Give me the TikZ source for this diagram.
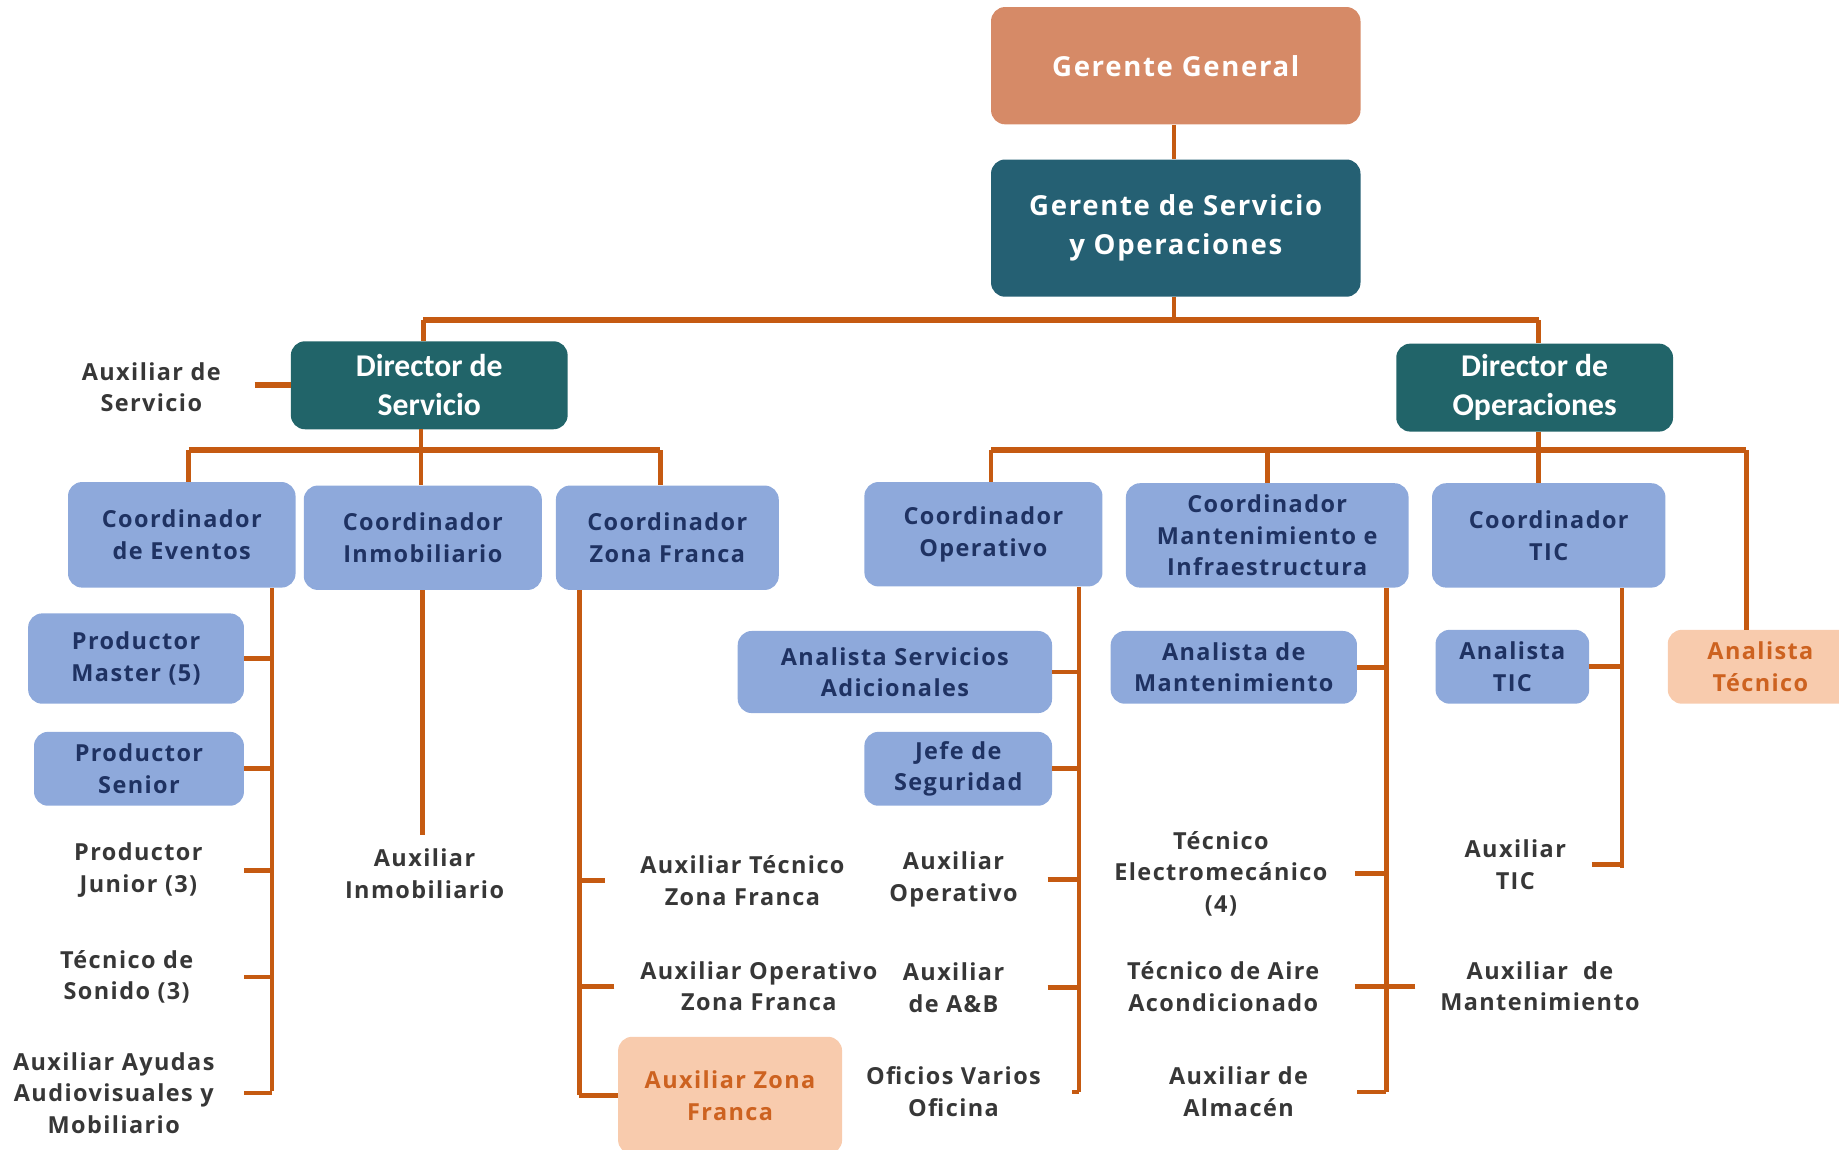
\documentclass[tikz,border=0pt]{standalone}
\usepackage{fontspec}
\setmainfont{Open Sans}
\newfontfamily\osans{Open Sans}[LetterSpace=6]
\newfontfamily\calib{Carlito}
\usetikzlibrary{positioning}
\definecolor{ggcol}{RGB}{214,138,103}
\definecolor{gsocol}{RGB}{37,96,115}
\definecolor{dircol}{RGB}{33,100,105}
\definecolor{boxblue}{RGB}{142,169,219}
\definecolor{navy}{RGB}{31,50,98}
\definecolor{peach}{RGB}{248,203,173}
\definecolor{orangetext}{RGB}{205,98,32}
\definecolor{graytext}{RGB}{55,55,55}
\definecolor{linecol}{RGB}{197,90,17}
\tikzset{basic/.style={rectangle,rounded corners=12pt,align=center,inner sep=0pt}}
\tikzset{top/.style={basic,fill=ggcol,text=white,font=\osans\bfseries\fontsize{23.5}{33}\selectfont}}
\tikzset{head/.style={basic,fill=gsocol,text=white,font=\osans\bfseries\fontsize{23.5}{33}\selectfont}}
\tikzset{director/.style={basic,fill=dircol,text=white,font=\calib\bfseries\fontsize{27}{33}\selectfont}}
\tikzset{coord/.style={basic,fill=boxblue,text=navy,font=\osans\bfseries\fontsize{20}{27}\selectfont}}
\tikzset{extra/.style={basic,fill=peach,text=orangetext,font=\osans\bfseries\fontsize{20}{27}\selectfont}}
\tikzset{leaf/.style={align=center,inner sep=0pt,text=graytext,font=\osans\bfseries\fontsize{20}{27}\selectfont}}
\tikzset{link/.style={draw=linecol,line width=4pt}}
\tikzset{bus/.style={link,line width=5pt}}

\begin{document}
\begin{tikzpicture}[x=1pt,y=-1pt]
    \useasboundingbox (0,0) rectangle (1568,979.7);

    % management
    \node[top,minimum width=315pt,minimum height=100pt] (gg) at (1002.5,56) {Gerente General};
    \node[head,minimum width=315pt,minimum height=117pt] (gso) at (1002.5,194.5) {Gerente de Servicio\\y Operaciones};
    \node[director,minimum width=236pt,minimum height=75pt] (ds) at (366,328.5) {Director de\\Servicio};
    \node[director,minimum width=236pt,minimum height=75pt] (dop) at (1308.5,330.5) {Director de\\Operaciones};
    \node[leaf,minimum width=176pt] (as) at (129,330) {Auxiliar de\\Servicio};

    % coordinators
    \node[coord,minimum width=194pt,minimum height=90pt] (ce) at (155,456) {Coordinador\\de Eventos};
    \node[coord,minimum width=203pt,minimum height=89pt] (ci) at (360.5,458.5) {Coordinador\\Inmobiliario};
    \node[coord,minimum width=190pt,minimum height=89pt] (cz) at (569,458.5) {Coordinador\\Zona Franca};
    \node[coord,minimum width=203pt,minimum height=89pt] (co) at (838.5,455.5) {Coordinador\\Operativo};
    \node[coord,minimum width=241pt,minimum height=89pt] (cm) at (1080.5,456.5) {Coordinador\\Mantenimiento e\\Infraestructura};
    \node[coord,minimum width=199pt,minimum height=89pt] (ct) at (1320.5,456.5) {Coordinador\\TIC};
    \node[extra,minimum width=158pt,minimum height=63pt] (at) at (1501,568.5) {Analista\\T\'ecnico};

    % eventos
    \node[coord,minimum width=184pt,minimum height=77pt] (pm) at (116,561.5) {Productor\\Master (5)};
    \node[coord,minimum width=179pt,minimum height=63pt] (ps) at (118.5,655.5) {Productor\\Senior};
    \node[leaf,minimum width=180pt] (pj) at (118,742) {Productor\\Junior (3)};
    \node[leaf,minimum width=200pt] (tso) at (108,833) {T\'ecnico de\\Sonido (3)};
    \node[leaf,minimum width=222pt] (aa) at (97,932) {Auxiliar Ayudas\\Audiovisuales y\\Mobiliario};

    % inmobiliario
    \node[leaf,minimum height=66pt] (ai) at (362,745) {Auxiliar\\Inmobiliario};

    % zona franca
    \node[leaf,minimum width=234pt] (atz) at (633,751) {Auxiliar T\'ecnico\\Zona Franca};
    \node[leaf,minimum width=246pt] (aoz) at (647,841) {Auxiliar Operativo\\Zona Franca};
    \node[extra,minimum width=191pt,minimum height=100pt] (azf) at (622.5,934) {Auxiliar Zona\\Franca};

    % operativo
    \node[coord,minimum width=268pt,minimum height=70pt] (asa) at (763,573) {Analista Servicios\\Adicionales};
    \node[coord,minimum width=160pt,minimum height=63pt] (js) at (817,655.5) {Jefe de\\Seguridad};
    \node[leaf,minimum width=160pt] (ao) at (813,750) {Auxiliar\\Operativo};
    \node[leaf,minimum width=160pt] (aab) at (813,842) {Auxiliar\\de A\&B};
    \node[leaf,minimum width=202pt] (ovo) at (813,931) {Oficios Varios\\Oficina};

    % mantenimiento
    \node[coord,minimum width=210pt,minimum height=62pt] (am) at (1052,569) {Analista de\\Mantenimiento};
    \node[leaf,minimum width=228pt] (te) at (1041,745) {T\'ecnico\\Electromec\'anico\\(4)};
    \node[leaf,minimum width=224pt] (taa) at (1043,841) {T\'ecnico de Aire\\Acondicionado};
    \node[leaf,minimum width=202pt] (aal) at (1056,931) {Auxiliar de\\Almac\'en};
    \node[leaf,minimum width=212pt] (amt) at (1313,841) {Auxiliar~~de\\Mantenimiento};

    % tic
    \node[coord,minimum width=131pt,minimum height=63pt] (atic) at (1289.5,568.5) {Analista\\TIC};
    \node[leaf,minimum width=130pt] (atc) at (1292,737) {Auxiliar\\TIC};

    \coordinate (bt) at (1001,273);
    \coordinate (bs) at (359,384);
    \coordinate (bo) at (1312,384);
    \coordinate (ev) at (232,930);
    \coordinate (zf) at (494,934);
    \coordinate (op) at (920,931);
    \coordinate (mt) at (1182,931);
    \coordinate (tc) at (1383,740);

    % top levels
    \path[link] (gg.south -| bt) -- (gso.north -| bt);
    \path[link] (gso.south -| bt) -- (bt);
    \path[bus] ([xshift=-5]ds.north |- bt) -- ([xshift=3.5]dop.north |- bt);
    \path[link] ([xshift=-5]ds.north |- bt) -- ([xshift=-5]ds.north);
    \path[link] ([xshift=3.5]dop.north |- bt) -- ([xshift=3.5]dop.north);
    \path[bus] (as.east |- ds.west) -- (ds.west);

    % service bus
    \path[link] (ds.south -| bs) -- (bs);
    \path[bus] ([xshift=6]ce.north |- bs) -- ([xshift=-6]cz.north |- bs);
    \path[link] ([xshift=6]ce.north |- bs) -- ([xshift=6]ce.north);
    \path[link] (bs) -- (ci.north -| bs);
    \path[link] ([xshift=-6]cz.north |- bs) -- ([xshift=-6]cz.north);

    % operations bus
    \path[link] (dop.south -| bo) -- (bo);
    \path[bus] ([xshift=6.5]co.north |- bo) -- ([xshift=-12]at.north |- bo);
    \path[link] ([xshift=6.5]co.north |- bo) -- ([xshift=6.5]co.north);
    \path[link] (cm.north |- bo) -- (cm.north);
    \path[link] (bo) -- (ct.north -| bo);
    \path[link] ([xshift=-12]at.north |- bo) -- ([xshift=-12]at.north);

    % eventos
    \path[link] (ce.south -| ev) -- (ev);
    \path[link] (pm.east) -- (pm.east -| ev);
    \path[link] (ps.east) -- (ps.east -| ev);
    \path[link] (pj.east) -- (pj.east -| ev);
    \path[link] (tso.east) -- (tso.east -| ev);
    \path[link] (aa.east) -- (aa.east -| ev);

    % inmobiliario
    \path[link] (ci.south) -- (ci.south |- ai.north);

    % zona franca
    \path[link] (cz.south -| zf) -- (zf);
    \path[link] (atz.west) -- (atz.west -| zf);
    \path[link] (aoz.west) -- (aoz.west -| zf);
    \path[link] (azf.west) -- (azf.west -| zf);

    % operativo
    \path[link] (co.south -| op) -- (op);
    \path[link] (asa.east) -- (asa.east -| op);
    \path[link] (js.east) -- (js.east -| op);
    \path[link] (ao.east) -- (ao.east -| op);
    \path[link] (aab.east) -- (aab.east -| op);
    \path[link] (ovo.east) -- (ovo.east -| op);

    % mantenimiento
    \path[link] (cm.south -| mt) -- (mt);
    \path[link] (am.east) -- (am.east -| mt);
    \path[link] (te.east) -- (te.east -| mt);
    \path[link] (taa.east) -- (taa.east -| mt);
    \path[link] (aal.east) -- (aal.east -| mt);
    \path[link] (amt.west) -- (amt.west -| mt);

    % tic
    \path[link] (ct.south -| tc) -- (tc);
    \path[link] (atic.east) -- (atic.east -| tc);
    \path[link] (atc.east) -- (atc.east -| tc);
\end{tikzpicture}
\end{document}
